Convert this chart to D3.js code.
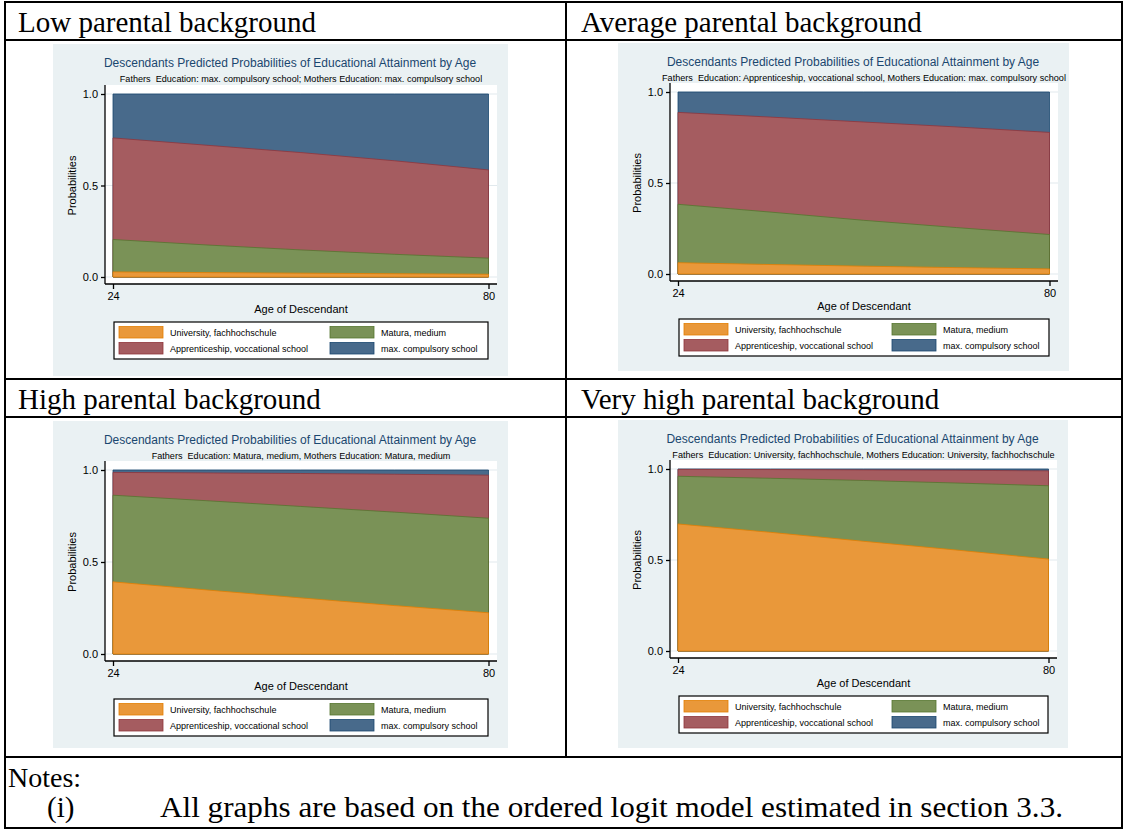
<!DOCTYPE html>
<html>
<head>
<meta charset="utf-8">
<script src="https://cdnjs.cloudflare.com/ajax/libs/d3/7.8.5/d3.min.js"></script>
<style>
  html, body { margin: 0; padding: 0; background: #fff; }
  svg { display: block; }
</style>
</head>
<body>
<svg id="chart" width="1125" height="830"></svg>
<script>
(function () {
  "use strict";

  const ages = [24, 38, 52, 66, 80];
  const xTicks = [24, 80];
  const yTicks = [0, 0.5, 1];

  const categories = [
    "University, fachhochschule",
    "Matura, medium",
    "Apprenticeship, voccational school",
    "max. compulsory school",
  ];
  const keys = ["univ", "matura", "appr", "comp"];

  const headers = [
    "Low parental background",
    "Average parental background",
    "High parental background",
    "Very high parental background",
  ];
  const titleText = "Descendants Predicted Probabilities of Educational Attainment by Age";
  const subtitles = [
    "Fathers  Education: max. compulsory school; Mothers Education: max. compulsory school",
    "Fathers  Education: Apprenticeship, voccational school, Mothers Education: max. compulsory school",
    "Fathers  Education: Matura, medium, Mothers Education: Matura, medium",
    "Fathers  Education: University, fachhochschule, Mothers Education: University, fachhochschule",
  ];

  // predicted probabilities, one array per outcome
  const lowUniv = [0.028, 0.024, 0.021, 0.018, 0.015];
  const lowMatura = [0.177, 0.151, 0.127, 0.106, 0.088];
  const lowAppr = [0.555, 0.545, 0.532, 0.511, 0.482];
  const lowComp = [0.24, 0.28, 0.32, 0.365, 0.415];

  const avgUniv = [0.062, 0.052, 0.043, 0.035, 0.028];
  const avgMatura = [0.321, 0.288, 0.252, 0.22, 0.189];
  const avgAppr = [0.505, 0.522, 0.54, 0.553, 0.561];
  const avgComp = [0.112, 0.138, 0.165, 0.192, 0.222];

  const highUniv = [0.392, 0.348, 0.305, 0.263, 0.224];
  const highMatura = [0.471, 0.485, 0.497, 0.508, 0.514];
  const highAppr = [0.124, 0.151, 0.179, 0.206, 0.234];
  const highComp = [0.013, 0.016, 0.019, 0.023, 0.028];

  const vhighUniv = [0.698, 0.652, 0.603, 0.555, 0.505];
  const vhighMatura = [0.262, 0.297, 0.334, 0.368, 0.403];
  const vhighAppr = [0.038, 0.048, 0.058, 0.07, 0.082];
  const vhighComp = [0.002, 0.003, 0.005, 0.007, 0.01];

  const panelSeries = [
    [lowUniv, lowMatura, lowAppr, lowComp],
    [avgUniv, avgMatura, avgAppr, avgComp],
    [highUniv, highMatura, highAppr, highComp],
    [vhighUniv, vhighMatura, vhighAppr, vhighComp],
  ];

  // stata s2color-ish look
  const fillColors = ["#e9983a", "#7a9257", "#a55c60", "#486a8b"];
  const lineColors = ["#e37e00", "#55752f", "#90353b", "#1a476f"];
  const bgColor = "#eaf1f3";
  const sans = "'Liberation Sans', Arial, sans-serif";
  const serif = "'Liberation Serif', 'Times New Roman', serif";

  // graph boxes: position of the light background, 1.0 / 0.0 rows inside it
  const panels = [
    { x: 53, y: 44, w: 455, h: 332, top: 50, bottom: 233 },
    { x: 618, y: 43, w: 451, h: 328, top: 49, bottom: 231 },
    { x: 53, y: 421, w: 455, h: 327, top: 49, bottom: 233 },
    { x: 618, y: 420, w: 450, h: 328, top: 49, bottom: 231 },
  ];

  const svg = d3.select("#chart");

  // ---- table frame ----
  const frame = svg.append("g").attr("stroke", "#000").attr("stroke-width", 2);
  [2, 40, 379, 417, 757, 828].forEach((yy) => {
    frame.append("line").attr("x1", 4).attr("x2", 1123).attr("y1", yy).attr("y2", yy);
  });
  [5, 1122].forEach((xx) => {
    frame.append("line").attr("x1", xx).attr("x2", xx).attr("y1", 1).attr("y2", 829);
  });
  frame.append("line").attr("x1", 566).attr("x2", 566).attr("y1", 2).attr("y2", 757);

  const headerPos = [
    [18, 32],
    [581, 32],
    [18, 409],
    [581, 409],
  ];
  headers.forEach((h, i) => {
    svg
      .append("text")
      .attr("x", headerPos[i][0])
      .attr("y", headerPos[i][1])
      .attr("font-family", serif)
      .attr("font-size", 29)
      .attr("fill", "#000")
      .text(h);
  });

  // notes
  svg
    .append("text")
    .attr("x", 8)
    .attr("y", 787)
    .attr("font-family", serif)
    .attr("font-size", 28)
    .text("Notes:");
  svg
    .append("text")
    .attr("x", 47)
    .attr("y", 817)
    .attr("font-family", serif)
    .attr("font-size", 29)
    .text("(i)");
  svg
    .append("text")
    .attr("x", 160)
    .attr("y", 817)
    .attr("font-family", serif)
    .attr("font-size", 30)
    .attr("textLength", 903)
    .attr("lengthAdjust", "spacingAndGlyphs")
    .text("All graphs are based on the ordered logit model estimated in section 3.3.");

  panels.forEach((p, i) => drawPanel(p, panelSeries[i], subtitles[i]));

  function drawPanel(p, series, subtitle) {
    const g = svg.append("g").attr("transform", `translate(${p.x},${p.y})`);

    g.append("rect").attr("width", p.w).attr("height", p.h).attr("fill", bgColor);

    // plot region (white) and axis positions
    const axisX = 52;
    const regionRight = p.w - 11;
    const regionTop = p.top - 9;
    const axisY = p.bottom + 7;
    const midX = (axisX + regionRight) / 2;

    g.append("rect")
      .attr("x", axisX)
      .attr("y", regionTop)
      .attr("width", regionRight - axisX)
      .attr("height", axisY - regionTop)
      .attr("fill", "#fff");

    const x = d3.scaleLinear().domain([24, 80]).range([60, p.w - 19.5]);
    const y = d3.scaleLinear().domain([0, 1]).range([p.bottom, p.top]);

    // gridlines
    g.append("g")
      .selectAll("line")
      .data(yTicks)
      .join("line")
      .attr("x1", axisX)
      .attr("x2", regionRight)
      .attr("y1", (d) => y(d))
      .attr("y2", (d) => y(d))
      .attr("stroke", "#e1e9ed")
      .attr("stroke-width", 1);

    const rows = ages.map((a, j) => {
      const r = { age: a };
      keys.forEach((k, s) => (r[k] = series[s][j]));
      return r;
    });
    const stacked = d3.stack().keys(keys)(rows);

    // cumulative areas, largest first like stata does it
    const area = d3
      .area()
      .x((d) => x(d.data.age))
      .y0(y(0))
      .y1((d) => y(Math.min(1, d[1])));

    for (let s = stacked.length - 1; s >= 0; s--) {
      g.append("path")
        .datum(stacked[s])
        .attr("d", area)
        .attr("fill", fillColors[s])
        .attr("stroke", lineColors[s])
        .attr("stroke-width", 0.8)
        .attr("stroke-linejoin", "round");
    }

    // y axis
    const yAxis = g
      .append("g")
      .attr("transform", `translate(${axisX},0)`)
      .call(d3.axisLeft(y).tickValues(yTicks).tickFormat(d3.format(".1f")).tickSize(4).tickPadding(3));
    yAxis.select(".domain").attr("d", `M0,${regionTop}V${axisY}`);

    // x axis
    const xAxis = g
      .append("g")
      .attr("transform", `translate(0,${axisY})`)
      .call(d3.axisBottom(x).tickValues(xTicks).tickFormat(d3.format("d")).tickSize(5).tickPadding(3));
    xAxis.select(".domain").attr("d", `M${axisX},0H${regionRight}`);

    [yAxis, xAxis].forEach((ax) => {
      ax.attr("font-family", sans).attr("font-size", 11);
      ax.selectAll("path, line").attr("stroke", "#000").attr("stroke-width", 1.3);
      ax.selectAll("text").attr("fill", "#000");
    });

    // titles
    g.append("text")
      .attr("x", midX - 11)
      .attr("y", 23)
      .attr("text-anchor", "middle")
      .attr("font-family", sans)
      .attr("font-size", 12)
      .attr("fill", "#1a476f")
      .text(titleText);

    g.append("text")
      .attr("x", midX)
      .attr("y", 38)
      .attr("text-anchor", "middle")
      .attr("font-family", sans)
      .attr("font-size", 9.1)
      .attr("fill", "#000")
      .style("white-space", "pre")
      .text(subtitle);

    g.append("text")
      .attr("transform", `translate(23,${(p.top + p.bottom) / 2}) rotate(-90)`)
      .attr("text-anchor", "middle")
      .attr("font-family", sans)
      .attr("font-size", 11)
      .attr("fill", "#000")
      .text("Probabilities");

    g.append("text")
      .attr("x", midX)
      .attr("y", axisY + 29)
      .attr("text-anchor", "middle")
      .attr("font-family", sans)
      .attr("font-size", 11)
      .attr("fill", "#000")
      .text("Age of Descendant");

    // legend
    const lx = 61;
    const lw = p.w - 20 - lx;
    const ly = p.bottom + 45;
    const lh = 37;
    const legend = g.append("g").attr("transform", `translate(${lx},${ly})`);
    legend
      .append("rect")
      .attr("width", lw)
      .attr("height", lh)
      .attr("fill", "#fff")
      .attr("stroke", "#000")
      .attr("stroke-width", 1.2);

    categories.forEach((c, s) => {
      const col = s % 2;
      const row = Math.floor(s / 2);
      const kx = col === 0 ? 5 : Math.round(lw * 0.577);
      const ky = row === 0 ? 4.5 : 20.5;
      legend
        .append("rect")
        .attr("x", kx)
        .attr("y", ky)
        .attr("width", 44)
        .attr("height", 11.5)
        .attr("fill", fillColors[s])
        .attr("stroke", lineColors[s])
        .attr("stroke-width", 0.8);
      legend
        .append("text")
        .attr("x", kx + 51)
        .attr("y", ky + 9)
        .attr("font-family", sans)
        .attr("font-size", 9)
        .attr("fill", "#000")
        .text(c);
    });
  }
})();
</script>
</body>
</html>
